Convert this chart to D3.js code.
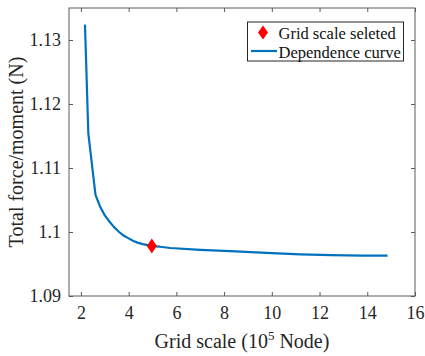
<!DOCTYPE html>
<html>
<head>
<meta charset="utf-8">
<script src="https://cdn.jsdelivr.net/npm/d3@7"></script>
<style>
  html, body { margin: 0; padding: 0; background: #fff; }
  svg { display: block; }
</style>
</head>
<body>
<svg id="chart" width="425" height="356" font-family="Liberation Serif"></svg>
<script>
// Grid-independence study: total force/moment against mesh size
const gridScale = [2.17, 2.31, 2.61, 2.8, 3.0, 3.2, 3.38, 3.6, 3.8, 4.0, 4.2, 4.4, 4.6, 4.97, 5.3, 5.75, 7.0, 8.26, 10.0, 11.2, 12.5, 13.8, 14.85];
const totalForce = [1.1324, 1.1154, 1.1058, 1.1040, 1.1026, 1.1016, 1.1008, 1.1000, 1.0994, 1.0990, 1.0986, 1.0983, 1.0981, 1.0978, 1.0977, 1.0975, 1.0972, 1.0970, 1.0967, 1.0965, 1.09638, 1.09632, 1.0963];
const selectedScale = [4.97];
const selectedForce = [1.0978];
const xTicks = [2, 4, 6, 8, 10, 12, 14, 16];
const yTicks = [1.09, 1.1, 1.11, 1.12, 1.13];
const legendLabels = ["Grid scale seleted", "Dependence curve"];

const FONT = "Liberation Serif";
const svg = d3.select("#chart");
const plotL = 69, plotR = 415, plotT = 8, plotB = 296;
const axisColor = "#5a5a5a";
const textColor = "#262626";

const x = d3.scaleLinear().domain([1.5, 16]).range([plotL, plotR]);
const y = d3.scaleLinear().domain([1.09, 1.135]).range([plotB, plotT]);

// axes with inward ticks on all four sides
const tickLen = 4;
const bottomAxis = d3.axisBottom(x).tickValues(xTicks).tickSizeInner(-tickLen).tickSizeOuter(0).tickPadding(10).tickFormat(d3.format("d"));
const topAxis = d3.axisTop(x).tickValues(xTicks).tickSizeInner(-tickLen).tickSizeOuter(0).tickFormat("");
const leftAxis = d3.axisLeft(y).tickValues(yTicks).tickSizeInner(-tickLen).tickSizeOuter(0).tickPadding(8).tickFormat(d => String(+d.toFixed(2)));
const rightAxis = d3.axisRight(y).tickValues(yTicks).tickSizeInner(-tickLen).tickSizeOuter(0).tickFormat("");

function styleAxis(g) {
  g.attr("font-family", FONT);
  g.select(".domain").remove();
  g.selectAll(".tick line").attr("stroke", axisColor).attr("stroke-width", 1);
  g.selectAll(".tick text").attr("fill", textColor).attr("font-size", 18).attr("font-family", FONT);
}

svg.append("g").attr("transform", `translate(0,${plotB})`).call(bottomAxis).call(styleAxis);
svg.append("g").attr("transform", `translate(0,${plotT})`).call(topAxis).call(styleAxis);
svg.append("g").attr("transform", `translate(${plotL},0)`).call(leftAxis).call(styleAxis);
svg.append("g").attr("transform", `translate(${plotR},0)`).call(rightAxis).call(styleAxis);

svg.append("rect")
  .attr("x", plotL).attr("y", plotT)
  .attr("width", plotR - plotL).attr("height", plotB - plotT)
  .attr("fill", "none").attr("stroke", axisColor).attr("stroke-width", 1);

// dependence curve
const pts = gridScale.map((g, i) => [g, totalForce[i]]);
svg.append("path")
  .datum(pts)
  .attr("fill", "none")
  .attr("stroke", "#0072BD")
  .attr("stroke-width", 2.2)
  .attr("stroke-linejoin", "round")
  .attr("d", d3.line().x(d => x(d[0])).y(d => y(d[1])));

// selected grid scale marker
const diamond = (cx, cy, w, h) => `M${cx},${cy - h / 2}L${cx + w / 2},${cy}L${cx},${cy + h / 2}L${cx - w / 2},${cy}Z`;
svg.selectAll(".sel").data(selectedScale).enter().append("path")
  .attr("class", "sel")
  .attr("d", (d, i) => diamond(x(d), y(selectedForce[i]), 10, 15))
  .attr("fill", "#f00");

// legend
const lg = svg.append("g");
lg.append("rect").attr("x", 247.5).attr("y", 22).attr("width", 156).attr("height", 39)
  .attr("fill", "#fff").attr("stroke", "#262626").attr("stroke-width", 1);
lg.append("path").attr("d", diamond(263, 32.5, 10, 14)).attr("fill", "#f00");
lg.append("line").attr("x1", 251).attr("x2", 277).attr("y1", 51).attr("y2", 51)
  .attr("stroke", "#0072BD").attr("stroke-width", 2.2);
lg.selectAll("text.lab").data(legendLabels).enter().append("text")
  .attr("class", "lab")
  .attr("x", 278.5)
  .attr("y", (d, i) => 39 + i * 19)
  .attr("font-family", FONT)
  .attr("font-size", 16.5)
  .attr("fill", "#111")
  .text(d => d);

// axis titles
const xt = svg.append("text")
  .attr("x", (plotL + plotR) / 2).attr("y", 348)
  .attr("font-family", FONT)
  .attr("text-anchor", "middle").attr("font-size", 20).attr("fill", textColor);
xt.append("tspan").text("Grid scale (10");
xt.append("tspan").attr("font-size", 13).attr("dy", -8).text("5");
xt.append("tspan").attr("dy", 8).text(" Node)");

svg.append("text")
  .attr("transform", `translate(23,${(plotT + plotB) / 2}) rotate(-90)`)
  .attr("font-family", FONT)
  .attr("text-anchor", "middle").attr("font-size", 20).attr("fill", textColor)
  .text("Total force/moment (N)");
</script>
</body>
</html>
